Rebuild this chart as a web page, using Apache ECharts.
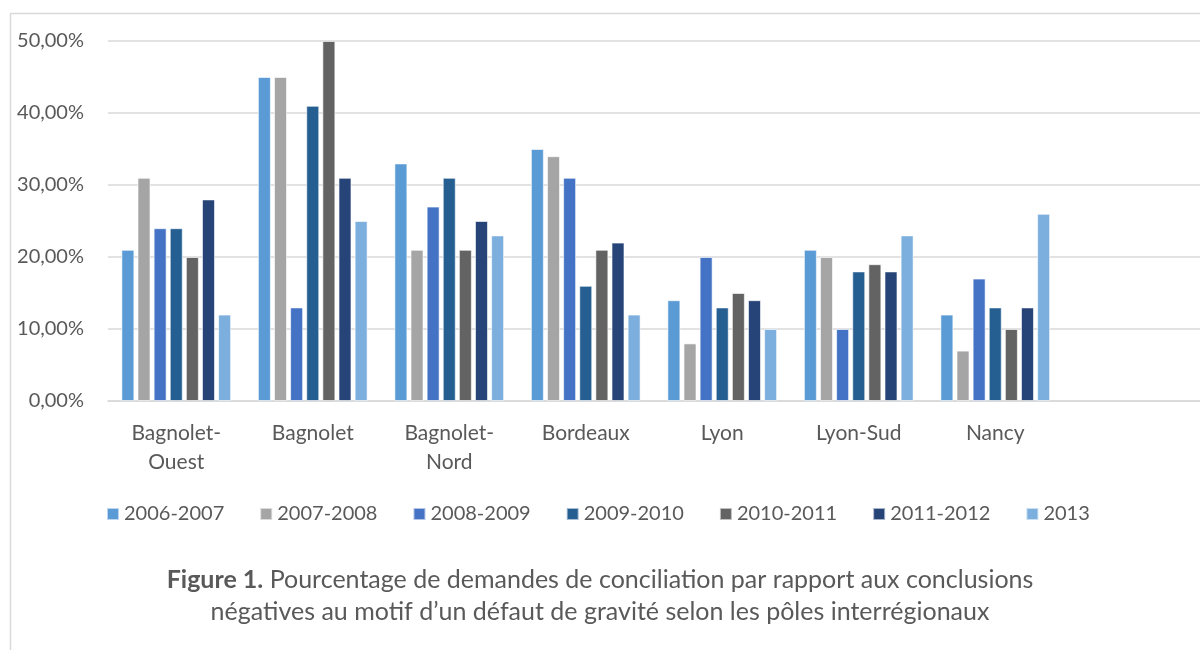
<!DOCTYPE html>
<html>
<head>
<meta charset="utf-8">
<script src="https://cdn.jsdelivr.net/npm/echarts@6/dist/echarts.min.js"></script>
<style>
  html, body { margin: 0; padding: 0; background: #fff; }
  #chart { width: 1200px; height: 650px; }
</style>
</head>
<body>
<div id="chart"></div>
<script>
// pôles interrégionaux (last slot is empty in the original)
var categories = ["Bagnolet-\nOuest", "Bagnolet", "Bagnolet-\nNord", "Bordeaux", "Lyon", "Lyon-Sud", "Nancy", ""];
var seriesNames = ["2006-2007", "2007-2008", "2008-2009", "2009-2010", "2010-2011", "2011-2012", "2013"];
var colors = ["#5B9BD5", "#A5A5A5", "#4472C4", "#255E91", "#636363", "#264478", "#7CAFDD"];

// values in %
var v2006 = [21, 45, 33, 35, 14, 21, 12];
var v2007 = [31, 45, 21, 34, 8, 20, 7];
var v2008 = [24, 13, 27, 31, 20, 10, 17];
var v2009 = [24, 41, 31, 16, 13, 18, 13];
var v2010 = [20, 50, 21, 21, 15, 19, 10];
var v2011 = [28, 31, 25, 22, 14, 18, 13];
var v2013 = [12, 25, 23, 12, 10, 23, 26];
var allValues = [v2006, v2007, v2008, v2009, v2010, v2011, v2013];

var font = "Lato";
var textColor = "#595959";

var chart = echarts.init(document.getElementById("chart"));

var series = seriesNames.map(function (name, i) {
  return {
    name: name,
    type: "bar",
    data: allValues[i],
    barWidth: 13,
    barGap: "24%",
    itemStyle: { color: colors[i], borderColor: "rgba(255,255,255,0.6)", borderWidth: 1 }
  };
});

chart.setOption({
  animation: false,
  graphic: [{
    type: "rect",
    shape: { x: 10.5, y: 13.5, width: 1400, height: 800 },
    style: { fill: "none", stroke: "#D9D9D9", lineWidth: 1.5 },
    silent: true
  }],
  title: {
    text: "{b|Figure 1.} Pourcentage de demandes de conciliation par rapport aux conclusions\nnégatives au motif d’un défaut de gravité selon les pôles interrégionaux",
    left: 595,
    top: 559,
    textAlign: "center",
    textStyle: {
      fontFamily: font,
      fontSize: 25,
      fontWeight: "normal",
      color: textColor,
      lineHeight: 32,
      rich: {
        b: { fontFamily: font, fontSize: 25, fontWeight: "bold", color: textColor }
      }
    }
  },
  legend: {
    data: seriesNames,
    left: 101,
    top: 499,
    itemWidth: 12,
    itemHeight: 12,
    itemGap: 35,
    icon: "rect",
    textStyle: { fontFamily: font, fontSize: 20, color: textColor }
  },
  grid: {
    left: 108,
    top: 41,
    width: 1104,
    height: 360,
    containLabel: false
  },
  xAxis: {
    type: "category",
    data: categories,
    axisLine: { lineStyle: { color: "#D9D9D9", width: 1.5 } },
    axisTick: { show: false },
    axisLabel: {
      interval: 0,
      margin: 18,
      fontFamily: font,
      fontSize: 21,
      color: textColor,
      lineHeight: 29
    }
  },
  yAxis: {
    type: "value",
    min: 0,
    max: 50,
    interval: 10,
    axisLine: { show: false },
    axisTick: { show: false },
    splitLine: { lineStyle: { color: "#D9D9D9", width: 1.5 } },
    axisLabel: {
      margin: 24,
      fontFamily: font,
      fontSize: 20,
      color: textColor,
      formatter: function (v) { return v.toFixed(2).replace(".", ",") + "%"; }
    }
  },
  series: series
});
</script>
</body>
</html>
